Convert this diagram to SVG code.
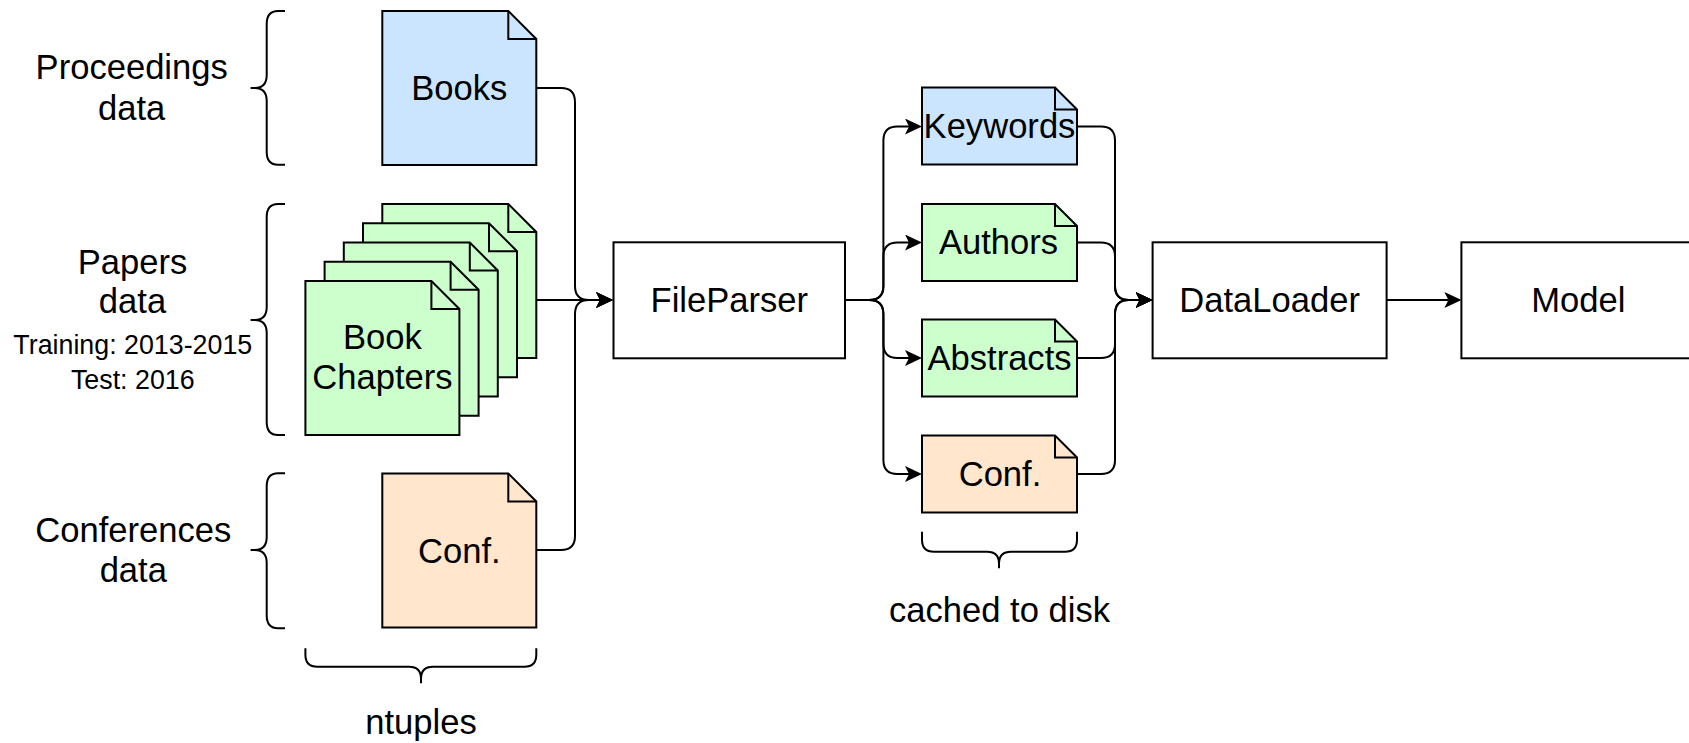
<svg xmlns="http://www.w3.org/2000/svg" width="1689" height="743" viewBox="0 0 1689 743">
<style>
.doc{stroke:#000;stroke-width:2;stroke-linejoin:miter}
.blue{fill:#cce5ff}
.green{fill:#ccffcc}
.orange{fill:#ffe6cc}
.box{fill:#fff;stroke:#000;stroke-width:2}
.fold{fill:none;stroke:#000;stroke-width:2}
.edge{fill:none;stroke:#000;stroke-width:2}
.brace{fill:none;stroke:#000;stroke-width:2}
text{font-family:"Liberation Sans",Arial,Helvetica,sans-serif;fill:#000;text-anchor:middle}
.t{font-size:34.6px}
.s{font-size:26.8px}
</style>
<defs>
<marker id="arr" markerUnits="userSpaceOnUse" markerWidth="17" markerHeight="16" viewBox="0 -8 17 16" refX="4" refY="0" orient="auto">
<path d="M0,-8 L17,0 L0,8 L4,0 Z" fill="#000"/>
</marker>
</defs>
<rect width="1689" height="743" fill="#fff"/>

<g id="connectors">
<path class="edge" marker-end="url(#arr)" d="M536.3,88 H561 Q575,88 575,102 V286 Q575,300 589,300 H600"/>
<path class="edge" marker-end="url(#arr)" d="M536.3,300 H600"/>
<path class="edge" marker-end="url(#arr)" d="M536.3,550 H561 Q575,550 575,536 V314 Q575,300 589,300 H600"/>
<path class="edge" marker-end="url(#arr)" d="M845,300 H869 Q883.4,300 883.4,286 V140.5 Q883.4,126.5 897.4,126.5 H909"/>
<path class="edge" marker-end="url(#arr)" d="M845,300 H869 Q883.4,300 883.4,286 V256.5 Q883.4,242.5 897.4,242.5 H909"/>
<path class="edge" marker-end="url(#arr)" d="M845,300 H869 Q883.4,300 883.4,314 V344 Q883.4,358 897.4,358 H909"/>
<path class="edge" marker-end="url(#arr)" d="M845,300 H869 Q883.4,300 883.4,314 V460 Q883.4,474 897.4,474 H909"/>
<path class="edge" marker-end="url(#arr)" d="M1077,126.5 H1101 Q1115,126.5 1115,140.5 V286 Q1115,300 1129,300 H1139.6"/>
<path class="edge" marker-end="url(#arr)" d="M1077,242.5 H1101 Q1115,242.5 1115,256.5 V286 Q1115,300 1129,300 H1139.6"/>
<path class="edge" marker-end="url(#arr)" d="M1077,358 H1101 Q1115,358 1115,344 V314 Q1115,300 1129,300 H1139.6"/>
<path class="edge" marker-end="url(#arr)" d="M1077,474 H1101 Q1115,474 1115,460 V314 Q1115,300 1129,300 H1139.6"/>
<path class="edge" marker-end="url(#arr)" d="M1386.6,300 H1448.4"/>
</g>

<g id="brace-proceedings">
<path class="brace" d="M285,11 H278 Q266.7,11 266.7,24 V75 Q266.7,88 254.7,88 H250.6 M254.7,88 Q266.7,88 266.7,101 V151.7 Q266.7,164.7 278,164.7 H285"/>
<text class="t" x="131.7" y="79.3">Proceedings</text>
<text class="t" x="131.7" y="120">data</text>
</g>
<g id="brace-papers">
<path class="brace" d="M285,204 H278 Q266.7,204 266.7,217 V307 Q266.7,320 254.7,320 H250.6 M254.7,320 Q266.7,320 266.7,333 V422 Q266.7,435 278,435 H285"/>
<text class="t" x="132.5" y="274.3">Papers</text>
<text class="t" x="132.5" y="313.3">data</text>
<text class="s" x="132.8" y="354.3">Training: 2013-2015</text>
<text class="s" x="132.8" y="389.3">Test: 2016</text>
</g>
<g id="brace-conferences">
<path class="brace" d="M285,473.3 H278 Q266.7,473.3 266.7,486.3 V537 Q266.7,550 254.7,550 H250.6 M254.7,550 Q266.7,550 266.7,563 V615.3 Q266.7,628.3 278,628.3 H285"/>
<text class="t" x="133.3" y="541.7">Conferences</text>
<text class="t" x="133.3" y="581.7">data</text>
</g>

<g id="books">
<path class="doc blue" d="M382.3,11 H508.3 L536.3,39 V165 H382.3 Z"/>
<path class="fold" d="M508.3,11 V39 H536.3"/>
<text class="t" x="459.3" y="100">Books</text>
</g>

<g id="book-chapters">
<path class="doc green" d="M382.3,204 H508.3 L536.3,232 V358 H382.3 Z"/>
<path class="fold" d="M508.3,204 V232 H536.3"/>
<path class="doc green" d="M363,223.2 H489 L517,251.2 V377.2 H363 Z"/>
<path class="fold" d="M489,223.2 V251.2 H517"/>
<path class="doc green" d="M343.8,242.5 H469.8 L497.8,270.5 V396.5 H343.8 Z"/>
<path class="fold" d="M469.8,242.5 V270.5 H497.8"/>
<path class="doc green" d="M324.6,261.7 H450.6 L478.6,289.7 V415.7 H324.6 Z"/>
<path class="fold" d="M450.6,261.7 V289.7 H478.6"/>
<path class="doc green" d="M305.4,281 H431.4 L459.4,309 V435 H305.4 Z"/>
<path class="fold" d="M431.4,281 V309 H459.4"/>
<text class="t" x="382.4" y="348.5">Book</text>
<text class="t" x="382.4" y="389">Chapters</text>
</g>

<g id="conf-in">
<path class="doc orange" d="M382.3,473.5 H508.3 L536.3,501.5 V627.5 H382.3 Z"/>
<path class="fold" d="M508.3,473.5 V501.5 H536.3"/>
<text class="t" x="459.3" y="562.7">Conf.</text>
</g>

<g id="ntuples">
<path class="brace" d="M305.4,648.3 V654.7 Q305.4,666.7 317.4,666.7 H409 Q421,666.7 421,678.7 V683.3 M421,678.7 Q421,666.7 433,666.7 H524.3 Q536.3,666.7 536.3,654.7 V648.3"/>
<text class="t" x="421" y="734">ntuples</text>
</g>

<g id="fileparser">
<rect class="box" x="613.5" y="242.3" width="231.5" height="116"/>
<text class="t" x="729.3" y="312">FileParser</text>
</g>

<g id="keywords">
<path class="doc blue" d="M922,87.5 H1055 L1077,109.5 V164.5 H922 Z"/>
<path class="fold" d="M1055,87.5 V109.5 H1077"/>
<text class="t" x="999.5" y="138.3">Keywords</text>
</g>
<g id="authors">
<path class="doc green" d="M922,204 H1055 L1077,226 V281 H922 Z"/>
<path class="fold" d="M1055,204 V226 H1077"/>
<text class="t" x="998.5" y="254.3">Authors</text>
</g>
<g id="abstracts">
<path class="doc green" d="M922,319.5 H1055 L1077,341.5 V396.5 H922 Z"/>
<path class="fold" d="M1055,319.5 V341.5 H1077"/>
<text class="t" x="999.5" y="369.5">Abstracts</text>
</g>
<g id="conf-out">
<path class="doc orange" d="M922,435.5 H1055 L1077,457.5 V512.5 H922 Z"/>
<path class="fold" d="M1055,435.5 V457.5 H1077"/>
<text class="t" x="1000" y="485.5">Conf.</text>
</g>

<g id="cached">
<path class="brace" d="M922,531.7 V539.7 Q922,551.7 934,551.7 H987 Q999,551.7 999,563.7 V568.3 M999,563.7 Q999,551.7 1011,551.7 H1065 Q1077,551.7 1077,539.7 V531.7"/>
<text class="t" x="999.5" y="621.7">cached to disk</text>
</g>

<g id="dataloader">
<rect class="box" x="1152.6" y="242.3" width="234" height="116"/>
<text class="t" x="1269.6" y="312">DataLoader</text>
</g>

<g id="model">
<rect class="box" x="1461.4" y="242.3" width="234" height="116"/>
<text class="t" x="1578.4" y="312">Model</text>
</g>
</svg>
